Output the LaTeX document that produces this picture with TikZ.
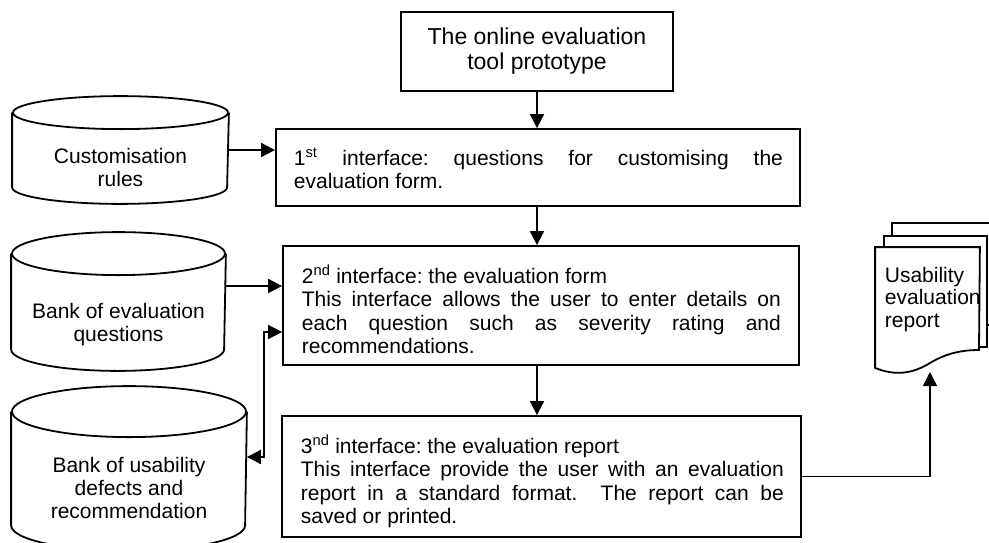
\documentclass[tikz,border=0pt]{standalone}
\usepackage{fontspec}
\setmainfont{Liberation Sans}
\usetikzlibrary{arrows.meta,calc}
\frenchspacing
\newcommand\dbcyl[3]{%
  \draw ($(#1.north)+(0,#3)$) ellipse [x radius=#2pt, y radius=#3pt];
  \draw ($(#1.north west)+(0,#3)$) -- ($(#1.south west)+(0,-#3)$)
    arc[start angle=180, end angle=360, x radius=#2pt, y radius=#3pt]
    -- ($(#1.north east)+(0,#3)$);}
\begin{document}
\begin{tikzpicture}[x=1pt,y=-1pt,line width=1.8pt,
  box/.style={draw, inner sep=0pt},
  area/.style={inner sep=0pt},
  arr/.style={-{Triangle[length=14pt,width=14pt]}},
  arrtwo/.style={{Triangle[length=14pt,width=14pt]}-{Triangle[length=14pt,width=14pt]}},
  txt/.style={inner sep=0pt, anchor=base west, font=\fontsize{21}{23.5}\selectfont},
  cyltxt/.style={inner sep=0pt, align=center, font=\fontsize{21}{23}\selectfont}]
\clip (0,0) rectangle (989,542);
\fill[white] (0,0) rectangle (989,542);

% top box
\node[box, minimum width=272pt, minimum height=79pt, align=center,
  font=\fontsize{23}{25}\selectfont] (top) at (537,51.5) {The online evaluation\\tool prototype};

% interface boxes
\node[box, minimum width=524pt, minimum height=77pt] (b1) at (538,167.5) {};
\node[txt] (t1) at (293,165) {\parbox[t]{489pt}{\makebox[489pt][s]{1\textsuperscript{st} interface: questions for customising the}\\evaluation form.}};

\node[box, minimum width=516pt, minimum height=119pt] (b2) at (541,305.5) {};
\node[txt] (t2) at (301,283) {\parbox[t]{479pt}{2\textsuperscript{nd} interface: the evaluation form\\\makebox[479pt][s]{This interface allows the user to enter details on}\\\makebox[479pt][s]{each question such as severity rating and}\\recommendations.}};

\node[box, minimum width=519pt, minimum height=121pt] (b3) at (541.5,476.5) {};
\node[txt] (t3) at (300,453) {\parbox[t]{483pt}{3\textsuperscript{nd} interface: the evaluation report\\\makebox[483pt][s]{This interface provide the user with an evaluation}\\\makebox[483pt][s]{report in a standard format.\ \ The report can be}\\saved or printed.}};

% cylinders
\node[area, minimum width=215pt, minimum height=106pt] (cA) at (120.5,150) {};
\dbcyl{cA}{107.5}{16.5}
\node[cyltxt] (tA) at (120.5,167) {Customisation\\rules};

\node[area, minimum width=213pt, minimum height=137pt] (cB) at (118.5,301.5) {};
\dbcyl{cB}{106.5}{21.5}
\node[cyltxt] (tB) at (118.5,325) {Bank of evaluation\\questions};

\node[area, minimum width=234pt, minimum height=163pt] (cC) at (129,468.5) {};
\dbcyl{cC}{117}{25.5}
\node[cyltxt] (tC) at (129,488) {Bank of usability\\defects and\\recommendation};

% document stack
\draw[fill=white] (892,223) rectangle (1000,325);
\draw[fill=white] (884,236) rectangle (987,347);
\node[area, minimum width=103pt, minimum height=119pt] (docF) at (927.5,307.5) {};
\draw[fill=white] (docF.south west) -- (docF.north west) -- (docF.north east) -- (979,350)
  .. controls (960,350) and (945,354) .. (930,363)
  .. controls (912,374) and (895,376) .. (docF.south west) -- cycle;
\node[txt, font=\fontsize{21}{22.5}\selectfont] (docT) at (884,282) {\parbox[t]{100pt}{Usability\\evaluation\\report}};
\coordinate (docw) at (930,372);

% connectors
\draw[arr] (top.south) -- (top.south |- b1.north);
\draw[arr] (b1.south -| top.south) -- (top.south |- b2.north);
\draw[arr] (b2.south -| top.south) -- (top.south |- b3.north);
\draw[arr] (cA.east) -- (cA.east -| b1.west);
\draw[arr] ([yshift=15.5pt]cB.east) -- ([yshift=15.5pt]cB.east -| b2.west);
\draw[arrtwo] ([yshift=11.5pt]cC.east) -- ++(17,0) |- ([yshift=-26.5pt]b2.west);
\draw[arr] (b3.east) -| (docw);
\end{tikzpicture}
\end{document}
